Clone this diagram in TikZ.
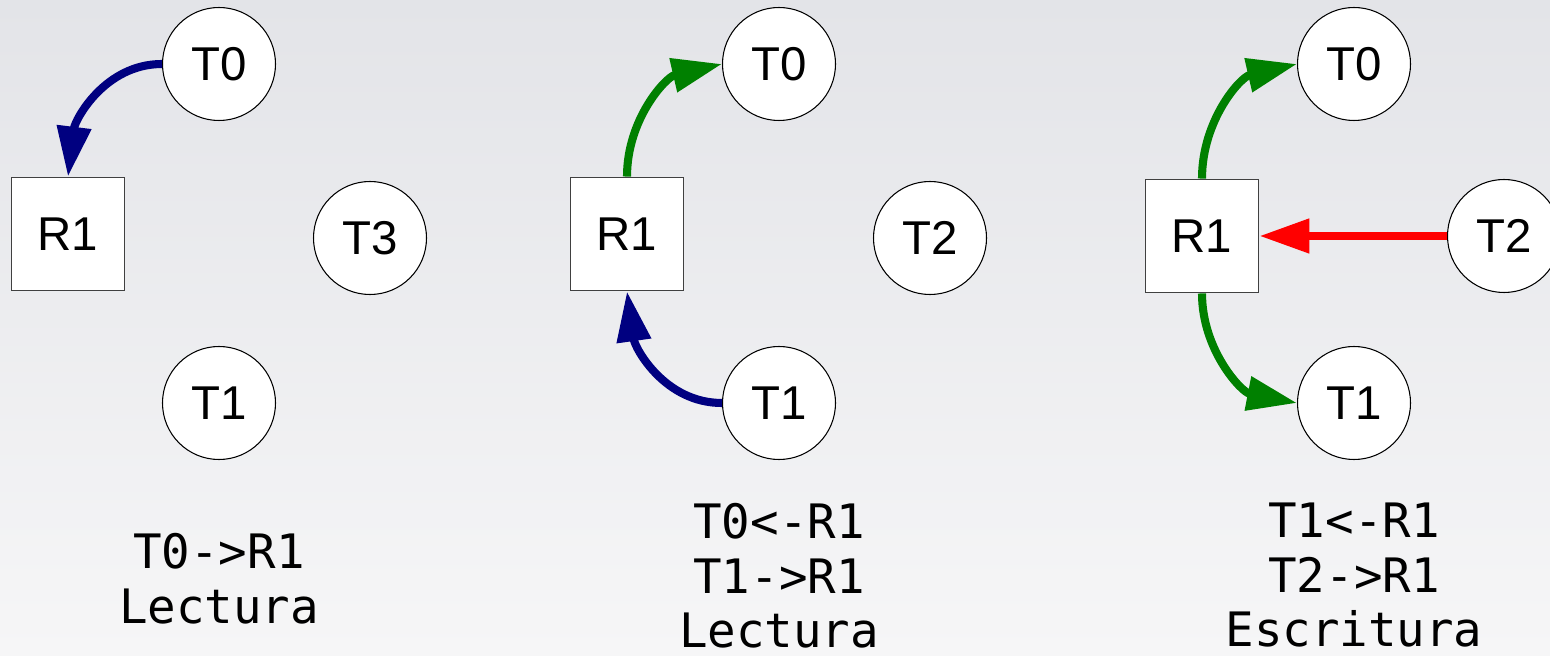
\documentclass[tikz,border=0pt]{standalone}
\usepackage{fontspec}
\setmainfont{Liberation Sans}
\newfontfamily\monofont{DejaVu Sans Mono}
\usepackage{tikz}
\usetikzlibrary{arrows.meta,positioning}

\definecolor{readblue}{RGB}{0,0,128}
\definecolor{readgreen}{RGB}{0,128,0}
\definecolor{writered}{RGB}{255,0,0}
\definecolor{bgtop}{RGB}{227,228,232}
\definecolor{bgbottom}{RGB}{246,246,247}

\begin{document}
\begin{tikzpicture}[->,>={Triangle[length=1cm,width=0.66cm]},
	roundnode/.style={circle,draw,fill=white,line width=0.6pt,minimum size=2.26cm,inner sep=0pt,font=\fontsize{27}{32}\selectfont},
	squarednode/.style={rectangle,draw=black!75,fill=white,line width=0.8pt,minimum size=2.27cm,inner sep=0pt,font=\fontsize{27}{32}\selectfont},
	textnode/.style={align=center,anchor=north,inner sep=0pt,font=\monofont\fontsize{27}{31}\selectfont},
	flow/.style={line width=4.6pt}]
	
	\useasboundingbox (0,0) rectangle (31,13.1);
	\shade[top color=bgtop,bottom color=bgbottom] (0,0) rectangle (31,13.1);
	
	% lectura: T0 -> R1
	\node [squarednode] (0) at (1.36, 8.42) {R1};
	\node [roundnode] (1) at (4.38, 11.82) {T0};
	\node [roundnode] (2) at (7.40, 8.34) {T3};
	\node [roundnode] (3) at (4.38, 5.04) {T1};
	\node [textnode] (4) at (4.38, 2.44) {T0->R1\\Lectura};
	
	% lectura: T0 <- R1, T1 -> R1
	\node [squarednode] (5) at (12.54, 8.42) {R1};
	\node [roundnode] (6) at (15.58, 11.82) {T0};
	\node [roundnode] (7) at (18.60, 8.34) {T2};
	\node [roundnode] (8) at (15.58, 5.04) {T1};
	\node [textnode] (9) at (15.58, 3.04) {T0<-R1\\T1->R1\\Lectura};
	
	% escritura: T1 <- R1, T2 -> R1
	\node [squarednode] (10) at (24.04, 8.38) {R1};
	\node [roundnode] (11) at (27.08, 11.82) {T0};
	\node [roundnode] (12) at (30.08, 8.38) {T2};
	\node [roundnode] (13) at (27.08, 5.04) {T1};
	\node [textnode] (14) at (27.08, 3.04) {T1<-R1\\T2->R1\\Escritura};
	
	\draw [flow, readblue] (1.west) to [out=180, in=83] (0.north);
	
	\draw [flow, readgreen] (5.north) to [out=90, in=193] (6.west);
	\draw [flow, readblue] (8.west) to [out=180, in=-82] (5.south);
	
	\draw [flow, readgreen] (10.north) to [out=90, in=193] (11.west);
	\draw [flow, readgreen] (10.south) to [out=-90, in=169] (13.west);
	\draw [flow, writered] (12.west) to (10.east);
\end{tikzpicture}
\end{document}
